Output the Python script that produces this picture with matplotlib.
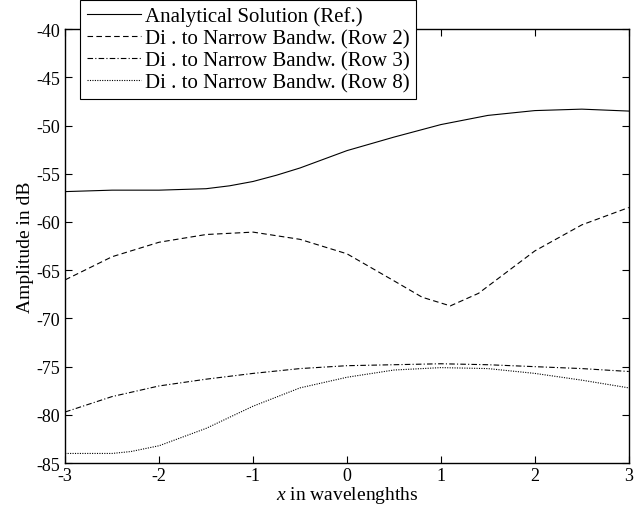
import matplotlib
matplotlib.use('Agg')
import matplotlib.pyplot as plt

plt.rcParams['font.family'] = ['Liberation Serif', 'DejaVu Serif']
plt.rcParams['mathtext.fontset'] = 'custom'
plt.rcParams['mathtext.rm'] = 'Liberation Serif'
plt.rcParams['mathtext.it'] = 'Liberation Serif:italic'
plt.rcParams['axes.unicode_minus'] = False

# values
x_ref = [-3, -2.5, -2, -1.5, -1.25, -1, -0.75, -0.5, -0.25, 0, 0.5, 1, 1.5, 2, 2.5, 3]
y_ref = [-56.85, -56.7, -56.7, -56.55, -56.25, -55.8, -55.15, -54.4, -53.5, -52.6,
         -51.2, -49.9, -48.95, -48.45, -48.3, -48.5]

x_row2 = [-3, -2.5, -2, -1.5, -1, -0.5, 0, 0.5, 0.8, 1.1, 1.4, 1.7, 2, 2.5, 3]
y_row2 = [-66.0, -63.6, -62.1, -61.3, -61.05, -61.8, -63.3, -66.1, -67.8,
          -68.7, -67.4, -65.2, -63.0, -60.3, -58.5]

x_row3 = [-3, -2.5, -2, -1.5, -1, -0.5, 0, 0.5, 1, 1.5, 2, 2.5, 3]
y_row3 = [-79.7, -78.1, -77.0, -76.3, -75.7, -75.2, -74.9, -74.8, -74.7,
          -74.8, -75.0, -75.2, -75.5]

x_row8 = [-3, -2.5, -2.3, -2, -1.5, -1, -0.5, 0, 0.5, 1, 1.5, 2, 2.5, 3]
y_row8 = [-84.0, -84.0, -83.8, -83.2, -81.4, -79.1, -77.2, -76.1, -75.35,
          -75.1, -75.2, -75.7, -76.4, -77.2]

labels = ['Analytical Solution (Ref.)',
          'Di . to Narrow Bandw. (Row 2)',
          'Di . to Narrow Bandw. (Row 3)',
          'Di . to Narrow Bandw. (Row 8)']

fig = plt.figure(figsize=(6.39, 5.10), dpi=100)
ax = fig.add_axes([0.102, 0.090, 0.882, 0.851])

lw = 0.8
ax.plot(x_ref, y_ref, color='black', linewidth=lw, linestyle='-', label=labels[0])
ax.plot(x_row2, y_row2, color='black', linewidth=lw, linestyle=(0, (5, 3)), label=labels[1])
ax.plot(x_row3, y_row3, color='black', linewidth=lw, linestyle=(0, (5, 2, 1, 2)), label=labels[2])
ax.plot(x_row8, y_row8, color='black', linewidth=lw, linestyle=(0, (1, 1.2)), label=labels[3])

ax.set_xlim(-3, 3)
ax.set_ylim(-85, -40)
ax.set_xticks(range(-3, 4))
ax.set_yticks(range(-85, -39, 5))
ax.tick_params(direction='in', top=True, right=True, labelsize=13, length=5, width=0.8)
ax.tick_params(axis='x', pad=3)
for s in ax.spines.values():
    s.set_linewidth(1.0)

ax.set_xlabel('$x$ in wavelenghths', fontsize=14, labelpad=0)
ax.set_ylabel('Amplitude in dB', fontsize=14, labelpad=2)

leg = ax.legend(loc='upper left', bbox_to_anchor=(0.027, 1.067), borderaxespad=0,
                fontsize=15, frameon=True, fancybox=False, framealpha=1,
                edgecolor='black', handlelength=2.6, handletextpad=0.2,
                labelspacing=0.12, borderpad=0.3)
leg.get_frame().set_linewidth(0.8)
leg.set_zorder(5)

fig.savefig('out.png', dpi=100, facecolor='white')
